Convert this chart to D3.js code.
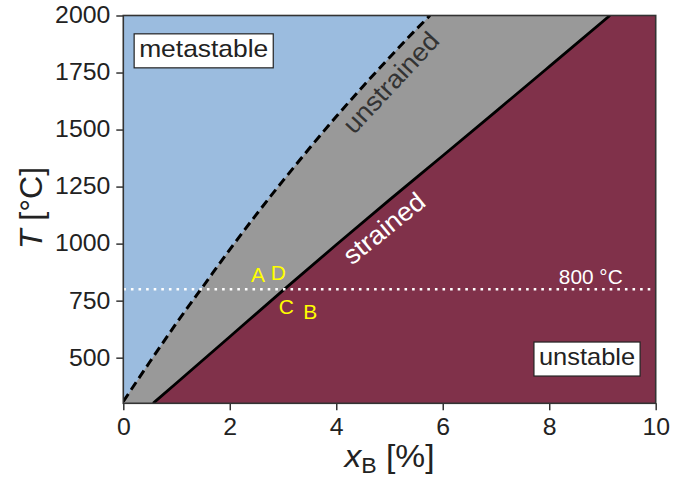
<!DOCTYPE html>
<html>
<head>
<meta charset="utf-8">
<script src="https://cdn.jsdelivr.net/npm/d3@7"></script>
<style>
  html, body { margin: 0; padding: 0; background: #fff; }
  svg { display: block; font-family: "Liberation Sans", Arial, sans-serif; }
</style>
</head>
<body>
<svg id="chart" width="685" height="478"></svg>
<script>
// ---- data ----
const unstrainedX = [0, 0.5, 1.0, 1.5, 2.0, 2.5, 3.0, 3.5, 4.0, 4.5, 5.0, 5.5, 5.76];
const unstrainedT = [308, 482, 652, 813, 974, 1128, 1276, 1419, 1557, 1689, 1816, 1939, 2000];
const strainedX = [0.56, 1, 2, 3, 4, 5, 6, 7, 8, 9.14];
const strainedT = [300, 389, 592, 795, 995, 1192, 1385, 1580, 1776, 2000];
const refTemperature = 800;
const xTicks = [0, 2, 4, 6, 8, 10];
const yTicks = [500, 750, 1000, 1250, 1500, 1750, 2000];
const pointLabels = ["A", "D", "C", "B"];
const pointX = [2.53, 2.91, 3.06, 3.51];
const pointT = [831, 842, 693, 671];
const regionLabels = ["metastable", "unstable"];
const regionX = [1.51, 8.71];
const regionT = [1817, 466];
const lineLabels = ["unstrained", "strained"];
const lineLabelX = [5.03, 4.9];
const lineLabelT = [1706, 1067];
const lineLabelAngle = [-47, -39];

// ---- layout ----
const W = 685, H = 478;
const margin = {left: 123.3, right: 29.3, top: 15.5, bottom: 74.7};
const svg = d3.select("#chart");
const x = d3.scaleLinear().domain([0, 10]).range([margin.left, W - margin.right]);
const y = d3.scaleLinear().domain([300, 2000]).range([H - margin.bottom, margin.top]);

const colBlue = "#9bbcdf", colGray = "#999999", colRed = "#80314a";
const SX = 1.08; // horizontal widening of the reference's lettering

function placeText(sel, px, py, s) {
  return sel.attr("transform", `translate(${px},${py}) scale(${s},1)`).attr("x", 0).attr("y", 0);
}

svg.append("defs").append("clipPath").attr("id", "plotclip")
  .append("rect").attr("x", x(0)).attr("y", y(2000))
  .attr("width", x(10) - x(0)).attr("height", y(300) - y(2000));

const plot = svg.append("g").attr("clip-path", "url(#plotclip)");

plot.append("rect").attr("x", x(0)).attr("y", y(2000))
  .attr("width", x(10) - x(0)).attr("height", y(300) - y(2000)).attr("fill", colBlue);

const unstrained = unstrainedX.map((v, i) => [v, unstrainedT[i]]);
const strained = strainedX.map((v, i) => [v, strainedT[i]]);

const lineGen = d3.line().x(d => x(d[0])).y(d => y(d[1])).curve(d3.curveMonotoneX);

plot.append("path")
  .attr("d", lineGen(unstrained) + "L" + x(10) + "," + y(2000) + "L" + x(10) + "," + y(300) + "L" + x(0) + "," + y(300) + "Z")
  .attr("fill", colGray);
plot.append("path")
  .attr("d", lineGen(strained) + "L" + x(10) + "," + y(2000) + "L" + x(10) + "," + y(300) + "Z")
  .attr("fill", colRed);

plot.append("path").attr("d", lineGen(unstrained)).attr("fill", "none")
  .attr("stroke", "#000").attr("stroke-width", 3).attr("stroke-dasharray", "9,5");
plot.append("path").attr("d", lineGen(strained)).attr("fill", "none")
  .attr("stroke", "#000").attr("stroke-width", 2.8);

// reference temperature line
plot.append("line").attr("x1", x(0)).attr("x2", x(10))
  .attr("y1", y(refTemperature)).attr("y2", y(refTemperature))
  .attr("stroke", "#fff").attr("stroke-width", 2.6).attr("stroke-dasharray", "2.6,5");
placeText(svg.append("text"), x(8.78), y(824), 1.04).attr("text-anchor", "middle")
  .attr("font-size", 20).attr("fill", "#fff").text(refTemperature + " °C");

// point labels
pointLabels.forEach((t, i) => {
  placeText(svg.append("text"), x(pointX[i]), y(pointT[i]), 1.05)
    .attr("text-anchor", "middle").attr("font-size", 20).attr("fill", "#ffff00").text(t);
});

// line labels
lineLabels.forEach((t, i) => {
  svg.append("text")
    .attr("transform", `translate(${x(lineLabelX[i])},${y(lineLabelT[i])}) rotate(${lineLabelAngle[i]}) scale(1.05,1)`)
    .attr("text-anchor", "middle").attr("dominant-baseline", "central")
    .attr("font-size", 26).attr("fill", i === 0 ? "#333" : "#fff").text(t);
});

// region labels with boxes
regionLabels.forEach((t, i) => {
  const s = i === 0 ? 1.1 : 1.06;
  const px = x(regionX[i]), py = y(regionT[i]);
  const g = svg.append("g").attr("transform", `translate(${px},${py})`);
  const txt = g.append("text").attr("transform", `scale(${s},1)`)
    .attr("text-anchor", "middle").attr("font-size", 24).attr("fill", "#222").text(t);
  const bb = txt.node().getBBox();
  g.insert("rect", "text").attr("x", bb.x * s - 5).attr("y", -23.4).attr("width", bb.width * s + 10)
    .attr("height", 34).attr("fill", "#fff").attr("stroke", "#222").attr("stroke-width", 1.2);
});

// axes
const axisColor = "#333";
const xAxis = svg.append("g").attr("transform", `translate(0,${y(300)})`)
  .call(d3.axisBottom(x).tickValues(xTicks).tickFormat(d3.format("d")).tickSize(7).tickPadding(8));
const yAxis = svg.append("g").attr("transform", `translate(${x(0)},0)`)
  .call(d3.axisLeft(y).tickValues(yTicks).tickFormat(d3.format("d")).tickSize(7).tickPadding(6));
[xAxis, yAxis].forEach(a => {
  a.select(".domain").remove();
  a.selectAll("line").attr("stroke", axisColor).attr("stroke-width", 1.5);
  a.selectAll("text").attr("font-size", 23).attr("fill", "#222")
    .attr("font-family", "'Liberation Sans', Arial, sans-serif")
    .each(function() {
      const t = d3.select(this);
      const xx = +t.attr("x") || 0;
      t.attr("x", xx / SX).attr("transform", `scale(${SX},1)`);
    });
});

svg.append("rect").attr("x", x(0)).attr("y", y(2000))
  .attr("width", x(10) - x(0)).attr("height", y(300) - y(2000))
  .attr("fill", "none").attr("stroke", axisColor).attr("stroke-width", 1.6);

// axis titles
const xl = svg.append("text").attr("transform", `translate(${(x(0) + x(10)) / 2},467) scale(1.05,1)`)
  .attr("text-anchor", "middle").attr("font-size", 32).attr("fill", "#222");
xl.append("tspan").attr("font-style", "italic").text("x");
xl.append("tspan").attr("font-size", 22).attr("dy", 6).text("B");
xl.append("tspan").attr("dy", -6).text(" [%]");

const yl = svg.append("text").attr("transform", `translate(42,208) rotate(-90)`)
  .attr("text-anchor", "middle").attr("font-size", 32).attr("fill", "#222");
yl.append("tspan").attr("font-style", "italic").text("T");
yl.append("tspan").text(" [°C]");
</script>
</body>
</html>
